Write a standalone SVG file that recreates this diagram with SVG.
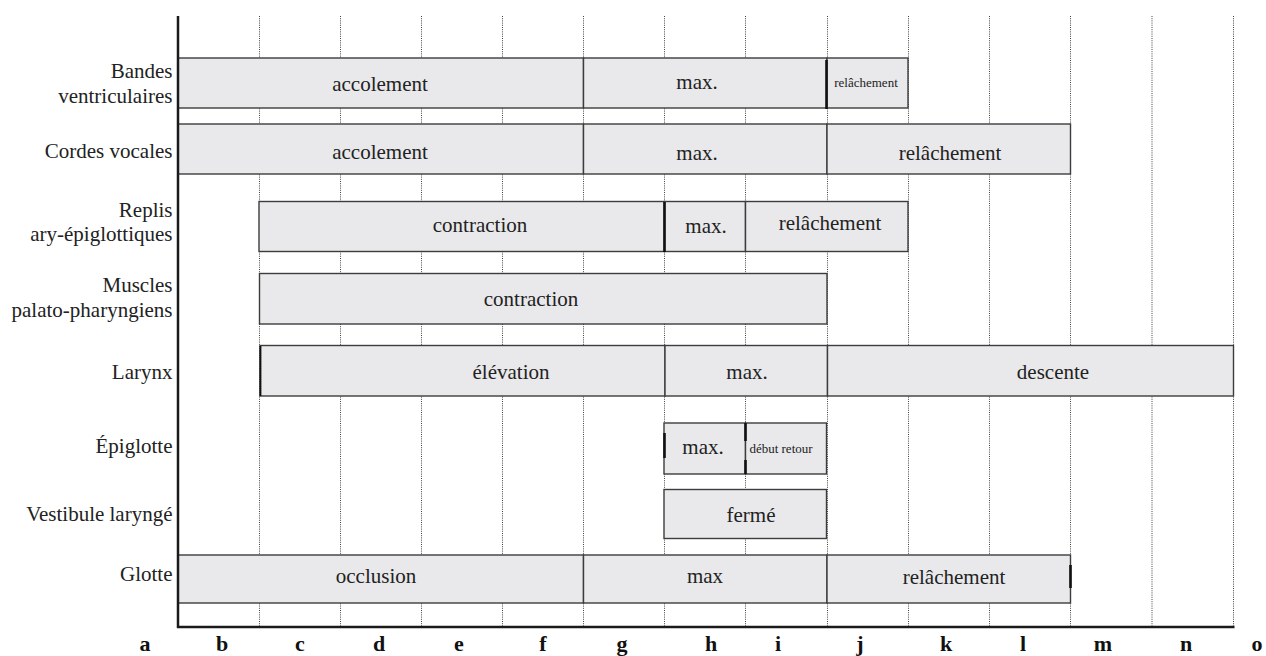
<svg xmlns="http://www.w3.org/2000/svg" width="1266" height="656" viewBox="0 0 1266 656">
<style>
.grid{stroke:#444;stroke-width:1;stroke-dasharray:1 1.2;fill:none}
.axis{stroke:#1a1a1a;stroke-width:2.5;fill:none}
.seg{fill:#e9e9eb;stroke:#3c3c3c;stroke-width:1.4}
.thick{stroke:#111;stroke-width:2.6;fill:none}
.lbl{font-family:"Liberation Serif","Times New Roman",serif;font-size:21px;fill:#222;text-anchor:end}
.t{font-family:"Liberation Serif","Times New Roman",serif;font-size:21px;fill:#222;text-anchor:middle}
.ts{font-family:"Liberation Serif","Times New Roman",serif;font-size:13px;fill:#222;text-anchor:middle}
.ax{font-family:"Liberation Serif","Times New Roman",serif;font-size:22px;font-weight:bold;fill:#111;text-anchor:middle}
</style>
<rect width="1266" height="656" fill="#fff"/>
<g id="grid">
<line class="grid" x1="259.5" y1="16" x2="259.5" y2="627"/>
<line class="grid" x1="340.5" y1="16" x2="340.5" y2="627"/>
<line class="grid" x1="421.5" y1="16" x2="421.5" y2="627"/>
<line class="grid" x1="502.5" y1="16" x2="502.5" y2="627"/>
<line class="grid" x1="583.5" y1="16" x2="583.5" y2="627"/>
<line class="grid" x1="664.5" y1="16" x2="664.5" y2="627"/>
<line class="grid" x1="745.5" y1="16" x2="745.5" y2="627"/>
<line class="grid" x1="827.5" y1="16" x2="827.5" y2="627"/>
<line class="grid" x1="908.5" y1="16" x2="908.5" y2="627"/>
<line class="grid" x1="989.5" y1="16" x2="989.5" y2="627"/>
<line class="grid" x1="1070.5" y1="16" x2="1070.5" y2="627"/>
<line class="grid" x1="1152" y1="16" x2="1152" y2="627"/>
<line class="grid" x1="1233.5" y1="16" x2="1233.5" y2="627"/>
</g>
<g id="connectors"></g>
<g id="row-bandes">
<text class="lbl" x="172.5" y="78">Bandes</text>
<text class="lbl" x="172.5" y="103">ventriculaires</text>
<rect class="seg" x="178" y="58" width="405.5" height="50"/>
<rect class="seg" x="583.5" y="58" width="243.5" height="50"/>
<rect class="seg" x="827" y="58" width="81" height="50"/>
<line class="thick" x1="826.5" y1="60" x2="826.5" y2="109"/>
<text class="t" x="380" y="91">accolement</text>
<text class="t" x="697" y="89">max.</text>
<text class="ts" x="866" y="87">relâchement</text>
</g>
<g id="row-cordes">
<text class="lbl" x="172.5" y="158">Cordes vocales</text>
<rect class="seg" x="178" y="124" width="405.5" height="50"/>
<rect class="seg" x="583.5" y="124" width="243.5" height="50"/>
<rect class="seg" x="827" y="124" width="243.5" height="50"/>
<text class="t" x="380" y="158.5">accolement</text>
<text class="t" x="697" y="160">max.</text>
<text class="t" x="950" y="160">relâchement</text>
</g>
<g id="row-replis">
<text class="lbl" x="172.5" y="217">Replis</text>
<text class="lbl" x="172.5" y="241">ary-épiglottiques</text>
<rect class="seg" x="259" y="201.5" width="405.5" height="50"/>
<rect class="seg" x="664.5" y="201.5" width="81" height="50"/>
<rect class="seg" x="745.5" y="201.5" width="162.5" height="50"/>
<line class="thick" x1="664.5" y1="202" x2="664.5" y2="252"/>
<text class="t" x="480" y="232">contraction</text>
<text class="t" x="706" y="233">max.</text>
<text class="t" x="830" y="230">relâchement</text>
</g>
<g id="row-muscles">
<text class="lbl" x="172.5" y="292">Muscles</text>
<text class="lbl" x="172.5" y="317">palato-pharyngiens</text>
<rect class="seg" x="259.5" y="273.5" width="567.5" height="50.5"/>
<text class="t" x="531" y="305.5">contraction</text>
</g>
<g id="row-larynx">
<text class="lbl" x="172.5" y="379">Larynx</text>
<rect class="seg" x="260" y="345.5" width="405" height="50.5"/>
<rect class="seg" x="665" y="345.5" width="162.5" height="50.5"/>
<rect class="seg" x="827.5" y="345.5" width="406" height="50.5"/>
<line x1="260.5" y1="346" x2="260.5" y2="396" stroke="#111" stroke-width="1.8"/>
<text class="t" x="511" y="378.5">élévation</text>
<text class="t" x="747" y="378.5">max.</text>
<text class="t" x="1053" y="378.5">descente</text>
</g>
<g id="row-epiglotte">
<text class="lbl" x="172.5" y="453">Épiglotte</text>
<rect class="seg" x="664" y="423" width="81.5" height="51"/>
<rect class="seg" x="745.5" y="423" width="81" height="51"/>
<line class="thick" x1="664.5" y1="433" x2="664.5" y2="458"/>
<line class="thick" x1="745.5" y1="423" x2="745.5" y2="441"/>
<line class="thick" x1="745.5" y1="460" x2="745.5" y2="474"/>
<text class="t" x="703" y="453.5">max.</text>
<text class="ts" x="781" y="452.5">début retour</text>
</g>
<g id="row-vestibule">
<text class="lbl" x="172.5" y="521">Vestibule laryngé</text>
<rect class="seg" x="664" y="489.5" width="162.5" height="49"/>
<text class="t" x="751" y="522">fermé</text>
</g>
<g id="row-glotte">
<text class="lbl" x="172.5" y="581">Glotte</text>
<rect class="seg" x="178" y="555" width="405.5" height="48"/>
<rect class="seg" x="583.5" y="555" width="243.5" height="48"/>
<rect class="seg" x="827" y="555" width="243.5" height="48"/>
<line class="thick" x1="1070.5" y1="565" x2="1070.5" y2="588"/>
<text class="t" x="376" y="583">occlusion</text>
<text class="t" x="705" y="583">max</text>
<text class="t" x="954" y="584">relâchement</text>
</g>
<g id="axes">
<line class="axis" x1="178" y1="16" x2="178" y2="628"/>
<line class="axis" x1="177" y1="627" x2="1234.5" y2="627"/>
</g>
<g id="axis-labels">
<text class="ax" x="145" y="651">a</text>
<text class="ax" x="222" y="651">b</text>
<text class="ax" x="300" y="651">c</text>
<text class="ax" x="379" y="651">d</text>
<text class="ax" x="459" y="651">e</text>
<text class="ax" x="543" y="651">f</text>
<text class="ax" x="622" y="651">g</text>
<text class="ax" x="711" y="651">h</text>
<text class="ax" x="778" y="651">i</text>
<text class="ax" x="860" y="651">j</text>
<text class="ax" x="946" y="651">k</text>
<text class="ax" x="1023" y="651">l</text>
<text class="ax" x="1103" y="651">m</text>
<text class="ax" x="1186" y="651">n</text>
<text class="ax" x="1257" y="651">o</text>
</g>
</svg>
